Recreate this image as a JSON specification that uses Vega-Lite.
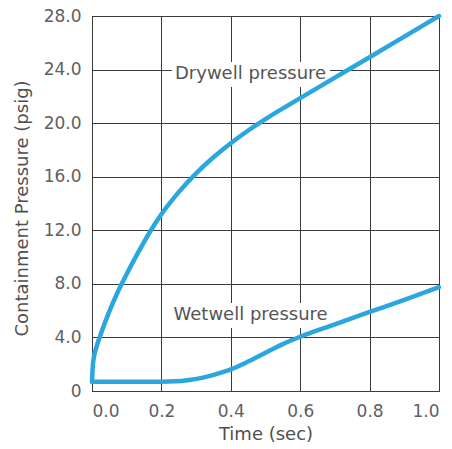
{
  "$schema": "https://vega.github.io/schema/vega-lite/v6.json",
  "width": 347,
  "height": 375,
  "autosize": {"type": "none"},
  "padding": {"left": 92, "top": 16, "right": 13, "bottom": 58},
  "background": "white",
  "config": {
    "view": {"stroke": "#3a3a3a", "strokeWidth": 1},
    "font": "DejaVu Sans",
    "axis": {
      "grid": true,
      "gridColor": "#3a3a3a",
      "gridOpacity": 1,
      "gridWidth": 1,
      "domainColor": "#3a3a3a",
      "ticks": false,
      "labelFont": "DejaVu Sans",
      "labelFontSize": 17,
      "labelColor": "#606060",
      "titleFont": "DejaVu Sans",
      "titleFontSize": 18,
      "titleFontWeight": "normal",
      "titleColor": "#505050"
    }
  },
  "datasets": {
    "curves": [
      {"t": 0.0, "p": 0.7, "series": "Drywell"},
      {"t": 0.002, "p": 1.75, "series": "Drywell"},
      {"t": 0.006, "p": 2.6, "series": "Drywell"},
      {"t": 0.013, "p": 3.3, "series": "Drywell"},
      {"t": 0.022, "p": 4.0, "series": "Drywell"},
      {"t": 0.035, "p": 4.95, "series": "Drywell"},
      {"t": 0.05, "p": 5.95, "series": "Drywell"},
      {"t": 0.07, "p": 7.15, "series": "Drywell"},
      {"t": 0.086, "p": 8.02, "series": "Drywell"},
      {"t": 0.1, "p": 8.74, "series": "Drywell"},
      {"t": 0.13, "p": 10.2, "series": "Drywell"},
      {"t": 0.172, "p": 12.1, "series": "Drywell"},
      {"t": 0.2, "p": 13.2, "series": "Drywell"},
      {"t": 0.25, "p": 14.85, "series": "Drywell"},
      {"t": 0.3, "p": 16.25, "series": "Drywell"},
      {"t": 0.35, "p": 17.45, "series": "Drywell"},
      {"t": 0.4, "p": 18.5, "series": "Drywell"},
      {"t": 0.45, "p": 19.45, "series": "Drywell"},
      {"t": 0.5, "p": 20.3, "series": "Drywell"},
      {"t": 0.55, "p": 21.1, "series": "Drywell"},
      {"t": 0.6, "p": 21.87, "series": "Drywell"},
      {"t": 0.7, "p": 23.4, "series": "Drywell"},
      {"t": 0.8, "p": 24.92, "series": "Drywell"},
      {"t": 0.9, "p": 26.46, "series": "Drywell"},
      {"t": 1.0, "p": 28.0, "series": "Drywell"},
      {"t": 0.0, "p": 0.7, "series": "Wetwell"},
      {"t": 0.1, "p": 0.7, "series": "Wetwell"},
      {"t": 0.2, "p": 0.7, "series": "Wetwell"},
      {"t": 0.24, "p": 0.72, "series": "Wetwell"},
      {"t": 0.28, "p": 0.82, "series": "Wetwell"},
      {"t": 0.32, "p": 1.0, "series": "Wetwell"},
      {"t": 0.36, "p": 1.28, "series": "Wetwell"},
      {"t": 0.4, "p": 1.62, "series": "Wetwell"},
      {"t": 0.45, "p": 2.2, "series": "Wetwell"},
      {"t": 0.5, "p": 2.85, "series": "Wetwell"},
      {"t": 0.55, "p": 3.5, "series": "Wetwell"},
      {"t": 0.6, "p": 4.05, "series": "Wetwell"},
      {"t": 0.7, "p": 4.98, "series": "Wetwell"},
      {"t": 0.8, "p": 5.9, "series": "Wetwell"},
      {"t": 0.9, "p": 6.8, "series": "Wetwell"},
      {"t": 1.0, "p": 7.75, "series": "Wetwell"}
    ],
    "labels": [
      {"label": "Drywell pressure", "t": 0.457, "p": 23.65, "t1": 0.23, "t2": 0.686, "p1": 22.7, "p2": 24.57},
      {"label": "Wetwell pressure", "t": 0.457, "p": 5.65, "t1": 0.23, "t2": 0.686, "p1": 4.7, "p2": 6.57}
    ]
  },
  "layer": [
    {
      "data": {"name": "labels"},
      "mark": {"type": "rect", "fill": "white", "stroke": null},
      "encoding": {
        "x": {"field": "t1", "type": "quantitative", "scale": {"domain": [0, 1], "nice": false}, "axis": {"values": [0, 0.2, 0.4, 0.6, 0.8, 1.0], "format": ".1f", "title": "Time (sec)", "labelPadding": 12, "titlePadding": 6}},
        "x2": {"field": "t2"},
        "y": {"field": "p1", "type": "quantitative", "scale": {"domain": [0, 28], "nice": false}, "axis": {"values": [0, 4, 8, 12, 16, 20, 24, 28], "labelExpr": "datum.value == 0 ? '0' : format(datum.value, '.1f')", "title": "Containment Pressure (psig)", "labelPadding": 11, "titleX": -70, "titleY": 192, "titleBaseline": "middle", "titleAlign": "center", "titleAngle": -90}},
        "y2": {"field": "p2"}
      }
    },
    {
      "data": {"name": "labels"},
      "mark": {"type": "text", "fontSize": 18, "font": "DejaVu Sans", "color": "#555555", "align": "center", "baseline": "middle"},
      "encoding": {
        "x": {"field": "t", "type": "quantitative"},
        "y": {"field": "p", "type": "quantitative"},
        "text": {"field": "label"}
      }
    },
    {
      "data": {"name": "curves"},
      "mark": {"type": "line", "interpolate": "monotone", "strokeWidth": 4.5, "color": "#2ba6de", "strokeCap": "round"},
      "encoding": {
        "x": {"field": "t", "type": "quantitative"},
        "y": {"field": "p", "type": "quantitative"},
        "detail": {"field": "series"}
      }
    }
  ]
}
